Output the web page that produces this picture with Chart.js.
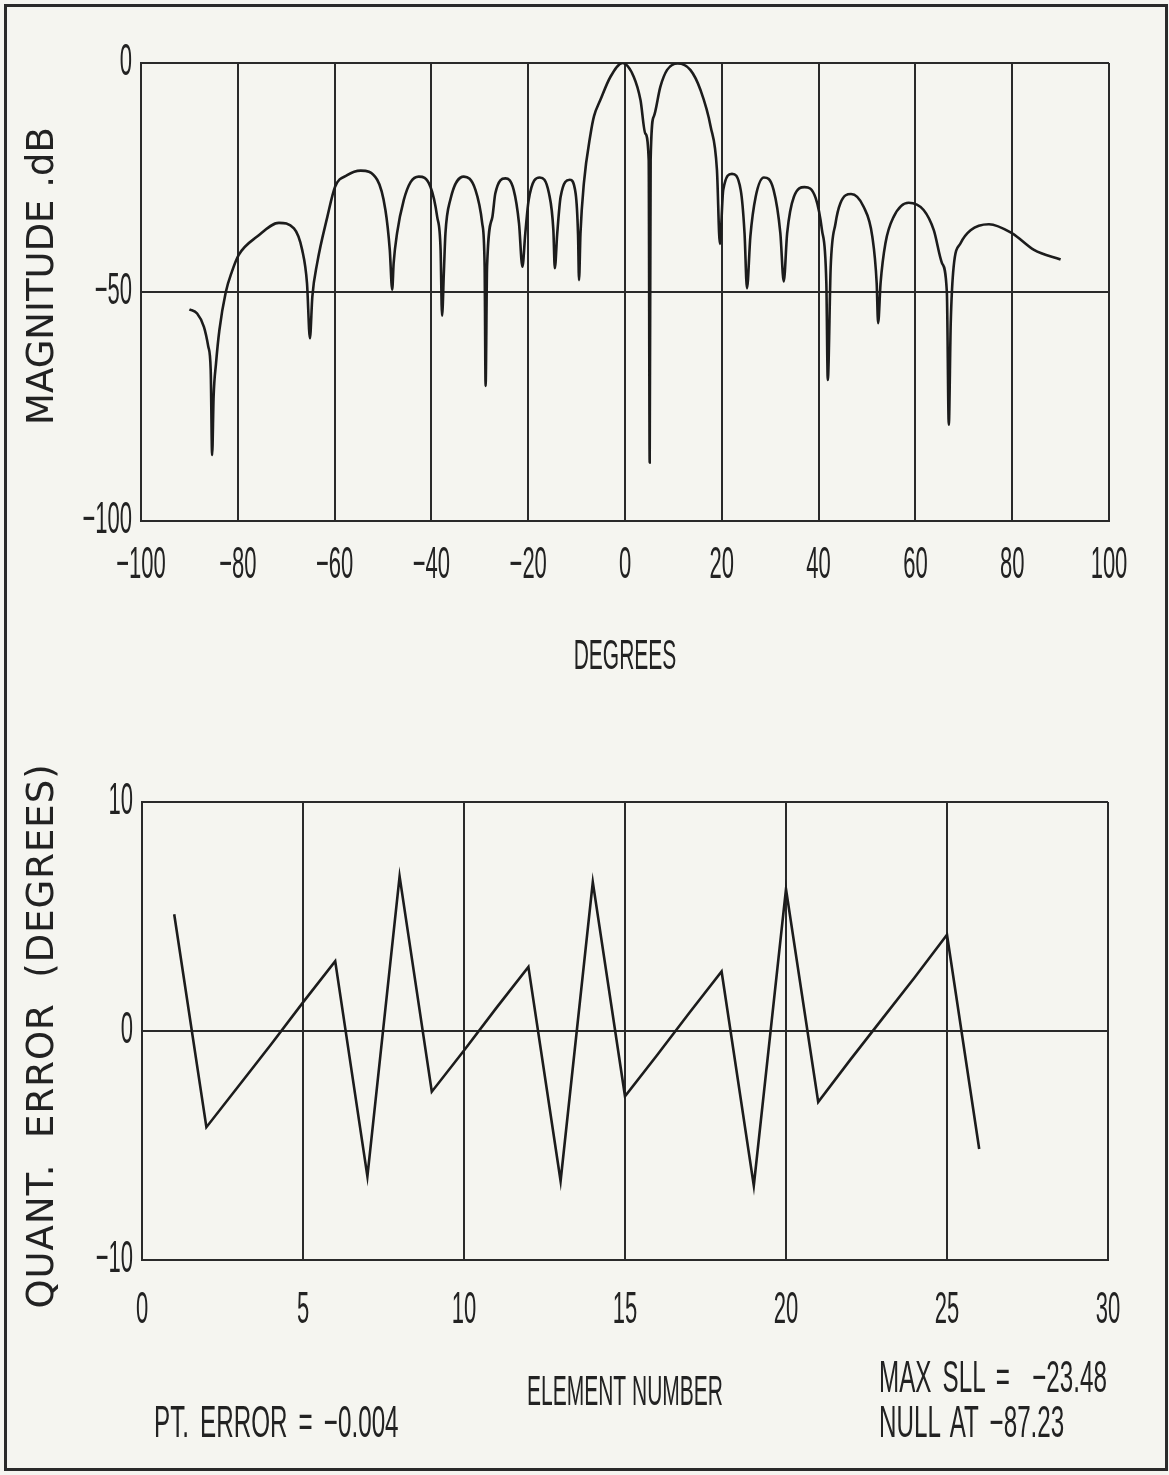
<!DOCTYPE html>
<html lang="en">
<head>
<meta charset="UTF-8">
<title>Array pattern and phase quantization error</title>
<script src="https://cdn.jsdelivr.net/npm/chart.js"></script>
<style>
    body { margin: 0; background: #f5f5f0; }
    #page { position: relative; width: 1169px; height: 1475px; overflow: hidden; }
    #frame { position: absolute; left: 4px; top: 4px; width: 1158px; height: 1461px; border: 3px solid #2a2a2a; }
    .wrap { position: absolute; left: 0; width: 1169px; }
    #topWrap { top: 0; height: 700px; }
    #botWrap { top: 700px; height: 775px; }
    .note {
        position: absolute; height: 44px; line-height: 44px;
        font-family: "Liberation Sans", Arial, sans-serif; font-size: 44px; color: #222;
        white-space: pre; word-spacing: 8px;
        transform-origin: left center; transform: scaleX(0.55);
    }
</style>
</head>
<body>
<div id="page">
    <div id="frame"></div>
    <div class="wrap" id="topWrap"><canvas id="patternChart"></canvas></div>
    <div class="wrap" id="botWrap"><canvas id="errorChart"></canvas></div>
    <div class="note" style="left:154px; top:1400px;">PT. ERROR = &minus;0.004</div>
    <div class="note" style="left:879px; top:1355px;">MAX SLL =  &minus;23.48</div>
    <div class="note" style="left:879px; top:1400px;">NULL AT &minus;87.23</div>
</div>

<script>
    // array factor (degrees, dB)
    const patternDeg = [
        -90.0, -88.4, -87.0, -86.1, -85.6, -85.3,
        -85.0, -84.5, -83.8, -82.5, -81.2, -79.8, -76.0, -71.5, -68.4, -66.7, -65.7, -65.1,
        -64.6, -63.6, -61.5, -59.9, -57.4, -54.6, -51.2, -49.5, -48.6, -48.1,
        -47.8, -47.1, -45.7, -44.3, -42.6, -40.2, -38.8, -38.1, -37.8,
        -37.4, -37.1, -36.1, -33.3, -30.9, -29.5, -29.0, -28.8,
        -28.5, -27.4, -26.8, -24.7, -23.0, -21.9, -21.2,
        -20.6, -19.9, -17.6, -15.7, -14.8, -14.5,
        -14.0, -13.3, -11.4, -10.2, -9.7, -9.5,
        -9.2, -8.5, -7.1, -6.4, -5.1, -3.0, -0.5, 1.8, 3.2, 4.2, 4.9, 5.1,
        5.3, 5.95, 7.3, 8.7, 10.9, 13.5, 15.6, 17.7, 19.0, 19.6,
        20.3, 22.1, 23.9, 24.7, 25.2,
        25.9, 27.0, 28.7, 30.7, 32.1, 32.8,
        33.5, 34.9, 37.1, 39.4, 40.7, 41.6, 41.9,
        42.5, 43.5, 44.5, 46.7, 49.3, 51.1, 52.0, 52.3,
        52.8, 53.8, 55.5, 58.6, 61.7, 63.8, 65.5, 66.5, 66.9,
        67.3, 67.9, 69.3, 71.4, 75.2, 80.0, 84.5, 90.0
    ];
    const patternDb = [
        -53.8, -54.7, -57.6, -61.9, -67.0, -85.6,
        -72.9, -65.6, -58.3, -50.1, -45.5, -41.9, -37.9, -34.9, -36.1, -40.8, -48.1, -60.1,
        -51.0, -43.7, -33.6, -27.0, -24.5, -23.5, -25.5, -32.1, -40.8, -49.5,
        -43.7, -37.2, -29.9, -26.0, -24.8, -27.0, -33.6, -40.8, -55.2,
        -45.0, -37.2, -29.9, -24.8, -27.7, -35.0, -44.5, -70.5,
        -44.5, -33.6, -28.5, -25.2, -27.7, -35.0, -44.5,
        -37.2, -29.9, -25.0, -28.5, -36.5, -44.8,
        -37.2, -29.2, -25.5, -28.5, -37.5, -47.4,
        -37.2, -26.3, -15.4, -11.6, -8.1, -3.0, 0.0, -3.0, -8.1, -15.4, -21.2, -87.23,
        -21.0, -11.7, -5.2, -1.5, -0.1, -1.5, -5.9, -13.9, -23.4, -39.5,
        -27.7, -24.2, -27.7, -37.2, -49.2,
        -37.9, -29.2, -25.0, -27.7, -37.2, -47.7,
        -37.2, -29.2, -27.1, -29.5, -36.5, -48.1, -69.2,
        -44.5, -35.0, -30.6, -28.6, -31.4, -37.9, -48.1, -56.8,
        -48.1, -39.4, -33.6, -30.5, -32.1, -36.5, -43.7, -50.0, -79.0,
        -56.8, -44.5, -39.4, -36.5, -35.2, -37.2, -40.8, -42.9
    ];

    // phase quantization error per element (degrees)
    const elementNo = [1, 2, 3, 4, 5, 6, 7, 8, 9, 10, 11, 12, 13, 14, 15, 16, 17, 18, 19, 20, 21, 22, 23, 24, 25, 26];
    const quantErr = [5.1, -4.2, -2.4, -0.6, 1.25, 3.05, -6.35, 6.75, -2.65, -0.85, 1.0, 2.8, -6.55,
                      6.5, -2.85, -1.05, 0.8, 2.6, -6.75, 6.2, -3.1, -1.25, 0.55, 2.35, 4.2, -5.15];

    const degTicks = [-100, -80, -60, -40, -20, 0, 20, 40, 60, 80, 100];
    const dbTicks = [-100, -50, 0];
    const elemTicks = [0, 5, 10, 15, 20, 25, 30];
    const errTicks = [-10, 0, 10];

    const INK = '#222';
    const GRID = '#2a2a2a';

    function fmt(v) {
        return v < 0 ? '\u2212' + Math.abs(v) : String(v);
    }

    // plotter lettering is very narrow, so squeeze the text horizontally
    function drawNarrow(ctx, txt, x, y, align, size) {
        ctx.save();
        ctx.translate(x, y);
        ctx.scale(0.5, 1);
        ctx.font = size + 'px "Liberation Sans", Arial, sans-serif';
        ctx.fillStyle = INK;
        ctx.textAlign = align;
        ctx.textBaseline = 'middle';
        ctx.fillText(txt, 0, 0);
        ctx.restore();
    }

    const plotterText = {
        id: 'plotterText',
        afterDraw(chart, args, opts) {
            const ctx = chart.ctx;
            const x = chart.scales.x;
            const y = chart.scales.y;
            x.ticks.forEach(t => drawNarrow(ctx, fmt(t.value), x.getPixelForValue(t.value), x.top + opts.xGap, 'center', 44));
            y.ticks.forEach(t => drawNarrow(ctx, fmt(t.value), y.right - 9, y.getPixelForValue(t.value), 'right', 44));
            drawNarrow(ctx, opts.xTitle, (x.left + x.right) / 2, x.top + opts.titleGap, 'center', 42);

            // vertical axis title, wide lettering
            ctx.save();
            ctx.translate(opts.yTitleX, (y.top + y.bottom) / 2 + opts.yTitleShift);
            ctx.rotate(-Math.PI / 2);
            ctx.font = '37px "DejaVu Sans", sans-serif';
            ctx.letterSpacing = opts.yTitleSpacing + 'px';
            ctx.fillStyle = INK;
            ctx.textAlign = 'center';
            ctx.textBaseline = 'middle';
            ctx.fillText(opts.yTitle, 0, 0);
            ctx.restore();
        }
    };

    function useTicks(list) {
        return scale => { scale.ticks = list.map(v => ({ value: v })); };
    }

    function axis(min, max, ticks, extra) {
        return Object.assign({
            type: 'linear',
            min: min,
            max: max,
            afterBuildTicks: useTicks(ticks),
            ticks: { display: false },
            grid: { color: GRID, lineWidth: 2, drawTicks: false },
            border: { color: GRID, width: 2 }
        }, extra);
    }

    new Chart(document.getElementById('patternChart'), {
        type: 'line',
        data: {
            datasets: [{
                data: patternDeg.map((d, i) => ({ x: d, y: patternDb[i] })),
                borderColor: '#1c1c1c',
                borderWidth: 2.6,
                pointRadius: 0,
                cubicInterpolationMode: 'monotone',
                fill: false
            }]
        },
        options: {
            responsive: true,
            maintainAspectRatio: false,
            animation: false,
            layout: { padding: { left: 21, top: 63, right: 60, bottom: 21 } },
            plugins: {
                legend: { display: false },
                tooltip: { enabled: false },
                plotterText: {
                    xGap: 45, xTitle: 'DEGREES', titleGap: 136,
                    yTitle: 'MAGNITUDE .dB', yTitleX: 43, yTitleShift: -16, yTitleSpacing: 0
                }
            },
            scales: {
                x: axis(-100, 100, degTicks, { afterFit: s => { s.height = 158; } }),
                y: axis(-100, 0, dbTicks, { afterFit: s => { s.width = 120; } })
            }
        },
        plugins: [plotterText]
    });

    new Chart(document.getElementById('errorChart'), {
        type: 'line',
        data: {
            datasets: [{
                data: elementNo.map((n, i) => ({ x: n, y: quantErr[i] })),
                borderColor: '#1c1c1c',
                borderWidth: 2.6,
                pointRadius: 0,
                tension: 0,
                fill: false
            }]
        },
        options: {
            responsive: true,
            maintainAspectRatio: false,
            animation: false,
            layout: { padding: { left: 19, top: 102, right: 61, bottom: 65 } },
            plugins: {
                legend: { display: false },
                tooltip: { enabled: false },
                plotterText: {
                    xGap: 51, xTitle: 'ELEMENT NUMBER', titleGap: 133,
                    yTitle: 'QUANT.  ERROR  (DEGREES)', yTitleX: 43, yTitleShift: 5, yTitleSpacing: 1
                }
            },
            scales: {
                x: axis(0, 30, elemTicks, { afterFit: s => { s.height = 150; } }),
                y: axis(-10, 10, errTicks, { afterFit: s => { s.width = 123; } })
            }
        },
        plugins: [plotterText]
    });
</script>
</body>
</html>
